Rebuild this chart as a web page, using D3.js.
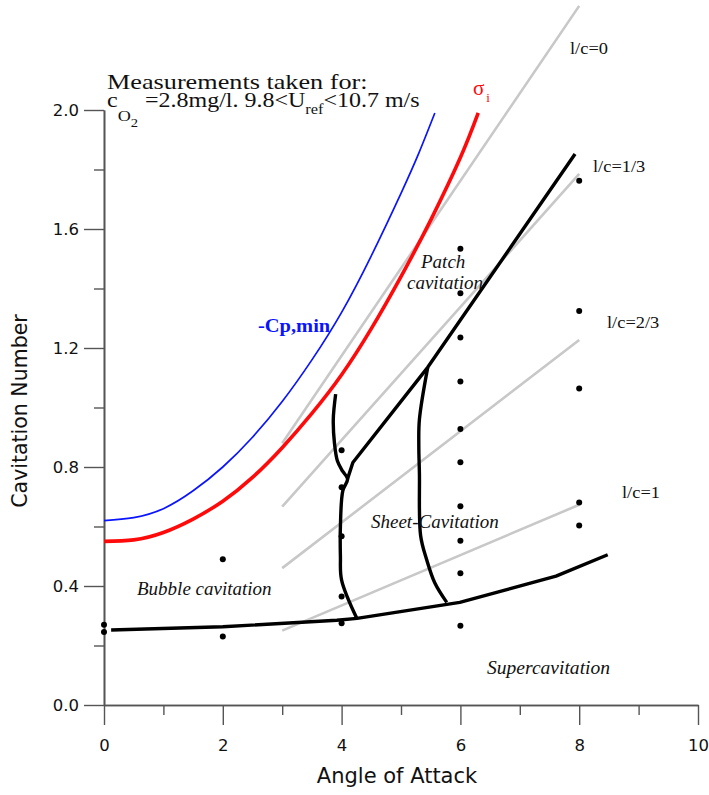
<!DOCTYPE html>
<html>
<head>
<meta charset="utf-8">
<script src="https://cdn.jsdelivr.net/npm/d3@7/dist/d3.min.js"></script>
<style>
  html, body { margin: 0; padding: 0; background: #fff; }
  svg { display: block; }
</style>
</head>
<body>
<svg id="chart" width="709" height="795"></svg>
<script>
// Axis ticks
const xMajorTicks = [0, 2, 4, 6, 8, 10];
const xMinorTicks = [1, 3, 5, 7, 9];
const yMajorTicks = [0, 0.4, 0.8, 1.2, 1.6, 2.0];
const yMinorTicks = [0.2, 0.6, 1.0, 1.4, 1.8];

// Minimum pressure coefficient curve (-Cp,min)
const cpMinAngle = [0, 0.5, 1, 1.5, 2, 2.5, 3, 3.5, 4, 4.5, 5, 5.3, 5.57];
const cpMinSigma = [0.62, 0.63, 0.66, 0.72, 0.80, 0.90, 1.02, 1.16, 1.32, 1.51, 1.72, 1.855, 1.99];

// Inception cavitation number (sigma_i)
const sigmaAngle = [0, 0.5, 1, 1.5, 2, 2.5, 3, 3.5, 4, 4.5, 5, 5.5, 6, 6.3];
const sigmaValue = [0.55, 0.555, 0.58, 0.625, 0.685, 0.765, 0.865, 0.98, 1.11, 1.265, 1.44, 1.63, 1.84, 1.99];

// Constant cavity length lines l/c
const lcLabels = ["l/c=0", "l/c=1/3", "l/c=2/3", "l/c=1"];
const lcStartAngle = [3, 3, 3, 3];
const lcStartSigma = [0.88, 0.667, 0.46, 0.25];
const lcEndAngle = [8, 8, 8, 8];
const lcEndSigma = [2.35, 1.785, 1.227, 0.673];

// Regime boundaries
const superBoundaryAngle = [0.12, 2, 3.92, 4.26, 5.99, 7.61, 8.48];
const superBoundarySigma = [0.252, 0.263, 0.285, 0.291, 0.345, 0.433, 0.505];

const bubbleBoundaryAngle = [3.9, 3.86, 3.88, 3.93, 4.02, 4.1, 4.02, 3.98, 3.98, 4.0, 4.26];
const bubbleBoundarySigma = [1.045, 0.96, 0.88, 0.82, 0.785, 0.76, 0.72, 0.6, 0.5, 0.42, 0.29];

const patchBoundaryAngle = [4.1, 4.19, 5.45, 7.93];
const patchBoundarySigma = [0.76, 0.815, 1.135, 1.852];

const sheetBoundaryAngle = [5.45, 5.31, 5.3, 5.31, 5.33, 5.43, 5.57, 5.77];
const sheetBoundarySigma = [1.135, 0.96, 0.87, 0.78, 0.57, 0.49, 0.41, 0.345];

// Measured points
const pointAngle = [0, 0, 2, 2, 4, 4, 4, 4, 4,
  6, 6, 6, 6, 6, 6, 6, 6, 6, 6,
  8, 8, 8, 8, 8];
const pointSigma = [0.27, 0.245, 0.49, 0.23, 0.856, 0.732, 0.567, 0.365, 0.275,
  1.534, 1.384, 1.235, 1.087, 0.928, 0.816, 0.668, 0.552, 0.443, 0.266,
  1.762, 1.324, 1.064, 0.681, 0.603];

const svg = d3.select("#chart");
const x = d3.scaleLinear().domain([0, 10]).range([104, 698]);
const y = d3.scaleLinear().domain([0, 2]).range([705, 110]);

const SANS = "'DejaVu Sans', Verdana, sans-serif";
const SERIF = "'Liberation Serif', 'Times New Roman', serif";
const AXIS_COLOR = "#555";

// ---- Axes ----
function styleAxis(g) {
  g.selectAll("path.domain").attr("stroke", AXIS_COLOR).attr("stroke-width", 1.6);
  g.selectAll(".tick line").attr("stroke", AXIS_COLOR).attr("stroke-width", 1.4);
  g.selectAll(".tick text").attr("fill", "#111").attr("font-family", SANS).attr("font-size", 16.5);
}

const xAxisG = svg.append("g").attr("transform", `translate(0,${y(0)})`)
  .call(d3.axisBottom(x).tickValues(xMajorTicks).tickSize(20).tickSizeOuter(0).tickPadding(14)
    .tickFormat(d3.format("d")));
styleAxis(xAxisG);
const xMinorG = svg.append("g").attr("transform", `translate(0,${y(0)})`)
  .call(d3.axisBottom(x).tickValues(xMinorTicks).tickSize(10).tickSizeOuter(0).tickFormat(""));
styleAxis(xMinorG);

const yAxisG = svg.append("g").attr("transform", `translate(${x(0)},0)`)
  .call(d3.axisLeft(y).tickValues(yMajorTicks).tickSize(20).tickSizeOuter(0).tickPadding(5)
    .tickFormat(d3.format(".1f")));
styleAxis(yAxisG);
const yMinorG = svg.append("g").attr("transform", `translate(${x(0)},0)`)
  .call(d3.axisLeft(y).tickValues(yMinorTicks).tickSize(10).tickSizeOuter(0).tickFormat(""));
styleAxis(yMinorG);

svg.append("text")
  .attr("x", (x(0) + x(10)) / 2 - 4).attr("y", 783)
  .attr("text-anchor", "middle")
  .attr("font-family", SANS).attr("font-size", 21).attr("fill", "#111")
  .text("Angle of Attack");

svg.append("text")
  .attr("transform", `translate(27,${411}) rotate(-90)`)
  .attr("text-anchor", "middle")
  .attr("font-family", SANS).attr("font-size", 20.5).attr("fill", "#111")
  .text("Cavitation Number");

// ---- Lines ----
const zip = (a, b) => a.map((v, i) => [v, b[i]]);
const straight = d3.line().x(d => x(d[0])).y(d => y(d[1]));
const natural = d3.line().x(d => x(d[0])).y(d => y(d[1])).curve(d3.curveNatural);
const bendy = d3.line().x(d => x(d[0])).y(d => y(d[1])).curve(d3.curveCatmullRom.alpha(0.5));

// constant cavity length lines
const lcData = lcLabels.map((lab, i) => [[lcStartAngle[i], lcStartSigma[i]], [lcEndAngle[i], lcEndSigma[i]]]);
svg.append("g").selectAll("path").data(lcData).join("path")
  .attr("d", straight)
  .attr("fill", "none").attr("stroke", "#c8c8c8").attr("stroke-width", 2.6);

// -Cp,min
svg.append("path").datum(zip(cpMinAngle, cpMinSigma))
  .attr("d", natural).attr("fill", "none").attr("stroke", "#0a14ff").attr("stroke-width", 1.7);

// sigma_i
svg.append("path").datum(zip(sigmaAngle, sigmaValue))
  .attr("d", natural).attr("fill", "none").attr("stroke", "#ff0a0a").attr("stroke-width", 3.6);

// regime boundaries
const boundaryStyle = p => p.attr("fill", "none").attr("stroke", "#000").attr("stroke-width", 3.4)
  .attr("stroke-linejoin", "round").attr("stroke-linecap", "butt");
svg.append("path").datum(zip(superBoundaryAngle, superBoundarySigma)).attr("d", straight).call(boundaryStyle);
svg.append("path").datum(zip(patchBoundaryAngle, patchBoundarySigma)).attr("d", straight).call(boundaryStyle);
svg.append("path").datum(zip(bubbleBoundaryAngle, bubbleBoundarySigma)).attr("d", bendy).call(boundaryStyle);
svg.append("path").datum(zip(sheetBoundaryAngle, sheetBoundarySigma)).attr("d", bendy).call(boundaryStyle);

// measured points
svg.append("g").selectAll("circle").data(zip(pointAngle, pointSigma)).join("circle")
  .attr("cx", d => x(d[0])).attr("cy", d => y(d[1])).attr("r", 3).attr("fill", "#000");

// ---- Annotations ----
function label(txt, px, py, size, opts = {}) {
  return svg.append("text")
    .attr("transform", `translate(${px},${py}) scale(${opts.sx || 1},1)`)
    .attr("font-family", SERIF).attr("font-size", size)
    .attr("fill", opts.fill || "#111")
    .attr("font-style", opts.italic ? "italic" : "normal")
    .attr("font-weight", opts.bold ? "bold" : "normal")
    .text(txt);
}

label("Measurements taken for:", 107, 89, 21.5, { sx: 1.22 });

// second header line with subscripts
const hdr = svg.append("text")
  .attr("transform", "translate(107,107) scale(1.17,1)")
  .attr("font-family", SERIF).attr("font-size", 20.5).attr("fill", "#111");
hdr.append("tspan").text("c");
hdr.append("tspan").attr("dy", 14).attr("font-size", 15.5).text("O");
hdr.append("tspan").attr("dy", 6).attr("font-size", 12.5).text("2");
hdr.append("tspan").attr("dy", -20).attr("dx", 6).text("=2.8mg/l. 9.8<U");
hdr.append("tspan").attr("dy", 7).attr("font-size", 14).text("ref");
hdr.append("tspan").attr("dy", -7).text("<10.7 m/s");

// sigma_i label
const sig = svg.append("text")
  .attr("transform", "translate(473,95)")
  .attr("font-family", SERIF).attr("font-size", 21).attr("fill", "#ff0a0a");
sig.append("tspan").text("σ");
sig.append("tspan").attr("dy", 7).attr("dx", 2).attr("font-size", 13).text("i");

// l/c labels
const lcLabelX = [570, 593, 607, 622];
const lcLabelY = [54, 172, 328, 498];
lcLabels.forEach((lab, i) => label(lab, lcLabelX[i], lcLabelY[i], 16, { sx: 1.15 }));

label("-Cp,min", 258, 332, 19.5, { bold: true, fill: "#0a14ff", sx: 1.05 });

label("Patch", 421, 268, 19, { italic: true });
label("cavitation", 407, 289, 19, { italic: true });
label("Sheet-Cavitation", 371, 528, 19, { italic: true });
label("Bubble cavitation", 137, 595, 19, { italic: true });
label("Supercavitation", 487, 674, 19, { italic: true, sx: 1.03 });
</script>
</body>
</html>
